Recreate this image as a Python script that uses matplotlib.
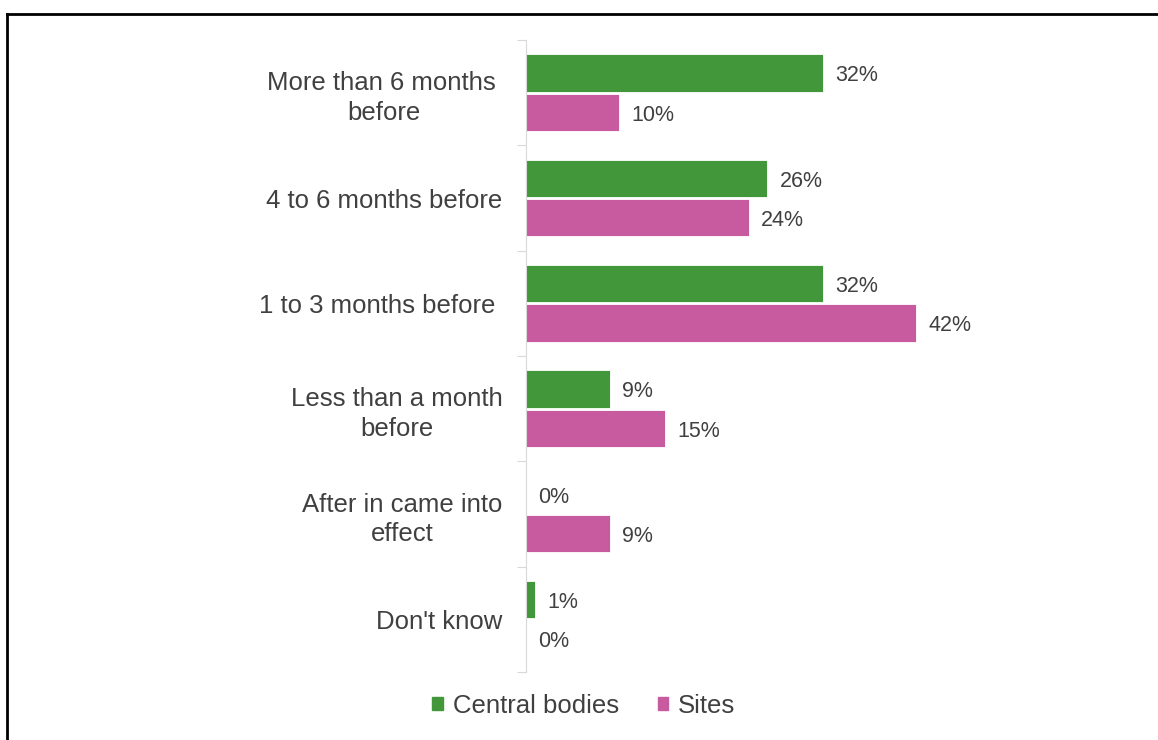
import matplotlib

matplotlib.use("Agg")
import matplotlib.pyplot as plt
import numpy as np
from matplotlib.lines import Line2D
from matplotlib.patches import Patch

plt.rcParams["font.family"] = ["Liberation Sans", "DejaVu Sans"]

categories = [
    "More than 6 months \nbefore",
    "4 to 6 months before",
    "1 to 3 months before ",
    "Less than a month\nbefore",
    "After in came into\neffect",
    "Don't know",
]
central_bodies = [32, 26, 32, 9, 0, 1]
sites = [10, 24, 42, 15, 9, 0]

GREEN = "#43973B"
PINK = "#C85AA0"
TEXT = "#404040"
AXIS = "#D9D9D9"

W, H = 1158, 740
fig = plt.figure(figsize=(W / 100, H / 100), dpi=100)
ax = fig.add_axes([526 / W, 1 - 672 / H, 464 / W, 632 / H])

y = np.arange(len(categories))
off = 0.186
bh = 0.355
ax.barh(y - off, central_bodies, height=bh, color=GREEN, edgecolor="white", linewidth=0.6,
        label="Central bodies")
ax.barh(y + off, sites, height=bh, color=PINK, edgecolor="white", linewidth=0.6, label="Sites")

for vals, dy in ((central_bodies, -off), (sites, off)):
    for yi, v in zip(y, vals):
        ax.annotate(f"{v}%", (v, yi + dy), xytext=(9, -2), textcoords="offset points",
                    ha="left", va="center", fontsize=15.5, color=TEXT)

ax.set_xlim(0, 50)
ax.set_ylim(len(categories) - 0.5, -0.5)
ax.set_xticks([])

ax.set_yticks(y)
ax.set_yticklabels(categories, fontsize=18.5, color=TEXT)
for lbl in ax.get_yticklabels():
    lbl.set_multialignment("center")
    lbl.set_linespacing(1.3)
ax.tick_params(axis="y", which="major", length=0, pad=17)
ax.set_yticks(np.arange(-0.5, len(categories)), minor=True)
ax.tick_params(axis="y", which="minor", length=6.5, width=0.8, color=AXIS)

for side in ("top", "right", "bottom"):
    ax.spines[side].set_visible(False)
ax.spines["left"].set_color(AXIS)
ax.spines["left"].set_linewidth(0.8)

handles = [Patch(color=GREEN, label="Central bodies"), Patch(color=PINK, label="Sites")]
fig.legend(handles=handles, loc="center", bbox_to_anchor=(584 / W, 1 - 706 / H), ncol=2,
           frameon=False, fontsize=18.5, handlelength=0.4, handleheight=0.4,
           handletextpad=0.4, columnspacing=1.5, labelcolor=TEXT)

# frame line along the top and left edges
fig.add_artist(Line2D([7 / W, 7 / W], [1 - 14 / H, 0], transform=fig.transFigure,
                      color="black", linewidth=2))
fig.add_artist(Line2D([7 / W, 1], [1 - 14 / H, 1 - 14 / H], transform=fig.transFigure,
                      color="black", linewidth=2))

fig.savefig("out.png", dpi=100)
